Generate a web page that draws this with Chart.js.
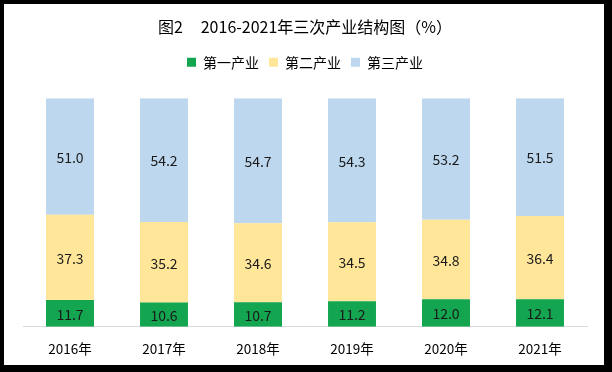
<!DOCTYPE html>
<html>
<head>
<meta charset="utf-8">
<script src="https://cdn.jsdelivr.net/npm/chart.js@4/dist/chart.umd.min.js"></script>
<style>
html,body{margin:0;padding:0;background:#000;}
#wrap{position:absolute;left:4px;top:4px;width:600px;height:361px;background:#fff;}
canvas{display:block;}
</style>
</head>
<body>
<div id="wrap"><canvas id="c" width="600" height="361"></canvas></div>
<script>
const categories = ['2016年','2017年','2018年','2019年','2020年','2021年'];
const primary   = [11.7, 10.6, 10.7, 11.2, 12.0, 12.1];
const secondary = [37.3, 35.2, 34.6, 34.5, 34.8, 36.4];
const tertiary  = [51.0, 54.2, 54.7, 54.3, 53.2, 51.5];
const seriesNames = ['第一产业','第二产业','第三产业'];
const titleText = '图2\u00a0\u00a0\u00a0\u00a0\u00a02016-2021年三次产业结构图（%）';

const FONT = '"Noto Sans CJK SC","DejaVu Sans",sans-serif';

const valueLabels = {
  id: 'valueLabels',
  afterDatasetsDraw(chart) {
    const ctx = chart.ctx;
    ctx.save();
    ctx.font = '14px ' + FONT;
    ctx.fillStyle = '#1a1a1a';
    ctx.textAlign = 'center';
    ctx.textBaseline = 'middle';
    chart.data.datasets.forEach((ds, i) => {
      const meta = chart.getDatasetMeta(i);
      meta.data.forEach((bar, j) => {
        const p = bar.getProps(['x','y','base'], true);
        ctx.fillText(ds.data[j].toFixed(1), p.x, (p.y + p.base) / 2 + 1);
      });
    });
    ctx.restore();
  }
};

const legendGap = {
  id: 'legendGap',
  beforeInit(chart) {
    if (!chart.legend) return;
    const orig = chart.legend.fit;
    chart.legend.fit = function() { orig.call(this); this.height += 19; };
  }
};

new Chart(document.getElementById('c'), {
  type: 'bar',
  data: {
    labels: categories,
    datasets: [
      {label: seriesNames[0], data: primary,   backgroundColor: '#13A54F'},
      {label: seriesNames[1], data: secondary, backgroundColor: '#FFE699'},
      {label: seriesNames[2], data: tertiary,  backgroundColor: '#BDD7EE'}
    ]
  },
  options: {
    responsive: false,
    animation: false,
    layout: {padding: {left: 19, right: 17, top: 0, bottom: 0}},
    datasets: {bar: {barPercentage: 0.51, categoryPercentage: 1}},
    plugins: {
      title: {
        display: true, text: titleText, color: '#000',
        font: {family: FONT, size: 16, weight: 'normal'},
        padding: {top: 13, bottom: 9}
      },
      legend: {
        display: true, position: 'top',
        labels: {
          color: '#000', boxWidth: 9, boxHeight: 9, padding: 10,
          font: {family: FONT, size: 14}
        }
      },
      tooltip: {enabled: false}
    },
    scales: {
      x: {
        stacked: true,
        grid: {display: false, drawTicks: false},
        border: {display: true, color: '#D9D9D9', width: 1},
        ticks: {color: '#000', padding: 14, font: {family: FONT, size: 13.5}},
        afterFit(scale) { scale.height -= 6; }
      },
      y: {
        stacked: true, display: false, min: 0, max: 100
      }
    }
  },
  plugins: [legendGap, valueLabels]
});
</script>
</body>
</html>
